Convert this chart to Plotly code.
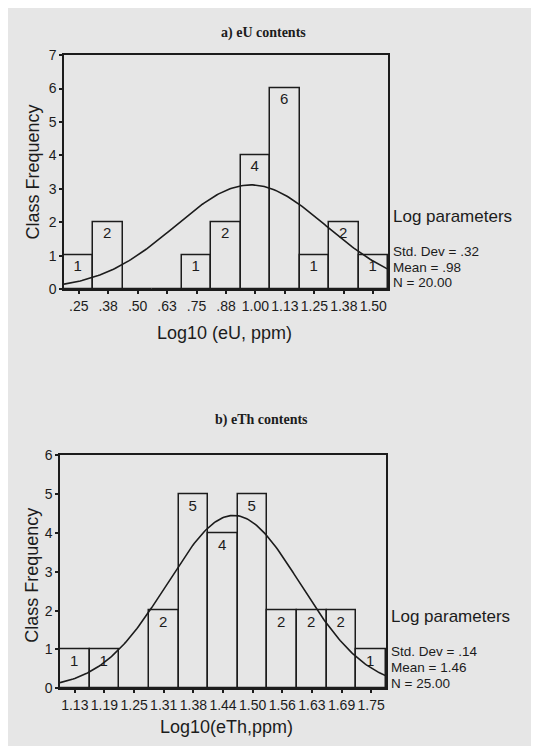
import numpy as np
import plotly.graph_objects as go

# ---------- data ----------
eu_centers = [0.25, 0.375, 0.5, 0.625, 0.75, 0.875, 1.0, 1.125, 1.25, 1.375, 1.5]
eu_labels = [".25", ".38", ".50", ".63", ".75", ".88", "1.00", "1.13", "1.25", "1.38", "1.50"]
eu_counts = [1, 2, 0, 0, 1, 2, 4, 6, 1, 2, 1]
eu_width = 0.125
eu_mean, eu_sd, eu_n = 0.98, 0.32, 20

eth_centers = [1.125, 1.1875, 1.25, 1.3125, 1.375, 1.4375, 1.5, 1.5625, 1.625, 1.6875, 1.75]
eth_labels = ["1.13", "1.19", "1.25", "1.31", "1.38", "1.44", "1.50", "1.56", "1.63", "1.69", "1.75"]
eth_counts = [1, 1, 0, 2, 5, 4, 5, 2, 2, 2, 1]
eth_width = 0.0625
eth_mean, eth_sd, eth_n = 1.46, 0.14, 25

W, H = 539, 746
BG = "#e6e6e6"
INK = "#1c1c1c"
SANS = "Liberation Sans, Arial, sans-serif"
SERIF = "Liberation Serif, Times New Roman, serif"


def px(x):
    return x / W


def py(y):
    return 1 - y / H


def normal_curve(mean, sd, n, width, lo, hi):
    xs = np.linspace(lo, hi, 200)
    ys = n * width / (sd * np.sqrt(2 * np.pi)) * np.exp(-0.5 * ((xs - mean) / sd) ** 2)
    return xs, ys


fig = go.Figure()

panels = [
    dict(c=eu_centers, lab=eu_labels, k=eu_counts, w=eu_width, m=eu_mean, s=eu_sd, n=eu_n,
         xa="x", ya="y", ymax=7, box=(56, 380, 40, 279)),
    dict(c=eth_centers, lab=eth_labels, k=eth_counts, w=eth_width, m=eth_mean, s=eth_sd, n=eth_n,
         xa="x2", ya="y2", ymax=6, box=(52, 378, 449, 687)),
]

layout_axes = {}
for i, p in enumerate(panels):
    lo = p["c"][0] - p["w"] / 2
    hi = p["c"][-1] + p["w"] / 2
    fig.add_trace(go.Bar(
        x=p["c"], y=p["k"], width=p["w"],
        text=[str(v) if v > 0 else "" for v in p["k"]],
        textposition="inside", insidetextanchor="end",
        textfont=dict(family=SANS, size=15, color=INK),
        constraintext="none",
        marker=dict(color="rgba(0,0,0,0)", line=dict(color=INK, width=1.5)),
        xaxis=p["xa"], yaxis=p["ya"], showlegend=False, hoverinfo="skip",
    ))
    xs, ys = normal_curve(p["m"], p["s"], p["n"], p["w"], lo, hi)
    fig.add_trace(go.Scatter(
        x=xs, y=ys, mode="lines", line=dict(color=INK, width=1.6),
        xaxis=p["xa"], yaxis=p["ya"], showlegend=False, hoverinfo="skip",
    ))
    l, r, t, b = p["box"]
    suffix = "" if i == 0 else "2"
    layout_axes["xaxis" + suffix] = dict(
        domain=[px(l), px(r)], range=[lo, hi], anchor="y" + suffix,
        tickmode="array", tickvals=p["c"], ticktext=p["lab"], tickangle=0,
        ticks="outside", ticklen=3, tickwidth=2, tickcolor=INK,
        showline=True, linecolor=INK, linewidth=1.5, mirror=True,
        showgrid=False, zeroline=False,
        tickfont=dict(family=SANS, size=14, color=INK),
        fixedrange=True,
    )
    layout_axes["yaxis" + suffix] = dict(
        domain=[py(b), py(t)], range=[0, p["ymax"]], anchor="x" + suffix,
        tickmode="linear", tick0=0, dtick=1,
        ticks="outside", ticklen=3, tickwidth=2, tickcolor=INK,
        showline=True, linecolor=INK, linewidth=1.5, mirror=True,
        showgrid=False, zeroline=False,
        tickfont=dict(family=SANS, size=14, color=INK),
        fixedrange=True,
    )

fig.update_layout(
    width=W, height=H, margin=dict(l=0, r=0, t=0, b=0),
    paper_bgcolor=BG, plot_bgcolor="rgba(0,0,0,0)",
    bargap=0, showlegend=False,
    **layout_axes,
)


def ann(text, x, y, size, family=SANS, angle=0, xanchor="center", bold=False):
    if bold:
        text = "<b>" + text + "</b>"
    fig.add_annotation(text=text, x=px(x), y=py(y), xref="paper", yref="paper",
                       showarrow=False, xanchor=xanchor, yanchor="middle",
                       textangle=angle, font=dict(family=family, size=size, color=INK))


# titles
ann("a) eU contents", 255, 17, 14, family=SERIF, bold=True)
ann("b) eTh contents", 253, 413, 14, family=SERIF, bold=True)
# axis titles
ann("Class Frequency", 25, 160, 18, angle=-90)
ann("Class Frequency", 24, 572, 18, angle=-90)
ann("Log10 (eU, ppm)", 216, 324, 18)
ann("Log10(eTh,ppm)", 218, 727, 18)
# parameter boxes
ann("Log parameters", 383, 205, 17, xanchor="left")
ann(f"Std. Dev = .{int(round(eu_sd*100)):02d}", 383, 241, 13.5, xanchor="left")
ann(f"Mean = .{int(round(eu_mean*100)):02d}", 383, 257, 13.5, xanchor="left")
ann(f"N = {eu_n:.2f}", 383, 272, 13.5, xanchor="left")
ann("Log parameters", 381, 614, 17, xanchor="left")
ann(f"Std. Dev = .{int(round(eth_sd*100)):02d}", 381, 649, 13.5, xanchor="left")
ann(f"Mean = {eth_mean:.2f}", 381, 666, 13.5, xanchor="left")
ann(f"N = {eth_n:.2f}", 381, 682, 13.5, xanchor="left")

fig.write_html("out.html")
